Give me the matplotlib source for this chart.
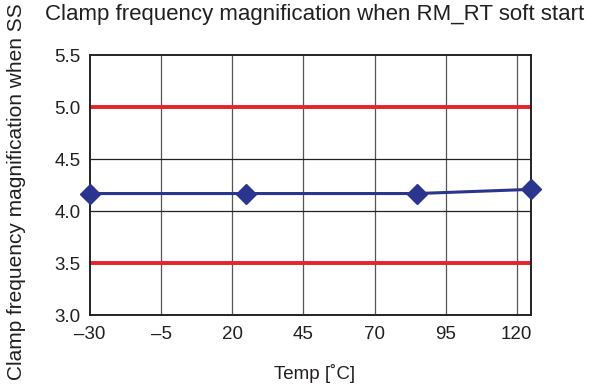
import matplotlib
matplotlib.use("Agg")
import matplotlib.pyplot as plt

# data
temps = [-30, 25, 85, 125]
magnification = [4.17, 4.17, 4.17, 4.21]
limit_values = [3.5, 5.0]
xticks = [-30, -5, 20, 45, 70, 95, 120]
xtick_labels = ["\u201330", "\u20135", "20", "45", "70", "95", "120"]
yticks = [3.0, 3.5, 4.0, 4.5, 5.0, 5.5]

plt.rcParams['font.family'] = ['Liberation Sans', 'DejaVu Sans']

fig = plt.figure(figsize=(6, 3.92), dpi=100)
ax = fig.add_axes([0.15, 0.196, 0.735, 0.663])

ax.set_xlim(-30, 125)
ax.set_ylim(3.0, 5.5)
ax.set_xticks(xticks)
ax.set_xticklabels(xtick_labels)
ax.set_yticks(yticks)
ax.set_yticklabels(["%.1f" % v for v in yticks])
ax.tick_params(length=0, labelsize=13.5, colors="#231f20")
ax.tick_params(axis="x", pad=8)
ax.tick_params(axis="y", pad=7)

for x in xticks[1:]:
    ax.axvline(x, color="#555555", lw=0.9, zorder=1)
for y in yticks[1:-1]:
    ax.axhline(y, color="#222222", lw=0.9, zorder=1)
for v in limit_values:
    ax.axhline(v, color="#e8232a", lw=2.8, zorder=2)

ax.plot(temps, magnification, color="#2b3590", lw=2.2, marker="D",
        markersize=10, zorder=3, clip_on=False)

for s in ax.spines.values():
    s.set_linewidth(1.4)
    s.set_color("#222222")

fig.text(0.525, 0.964, "Clamp frequency magnification when RM_RT soft start",
         fontsize=16, color="#231f20", ha="center", va="center")
fig.text(0.028, 0.51, "Clamp frequency magnification when SS", rotation=90,
         fontsize=15, color="#231f20", ha="center", va="center")
fig.text(0.525, 0.046, "Temp [\u02daC]", fontsize=13.5, color="#231f20",
         ha="center", va="center")

fig.savefig("out.png", dpi=100)
